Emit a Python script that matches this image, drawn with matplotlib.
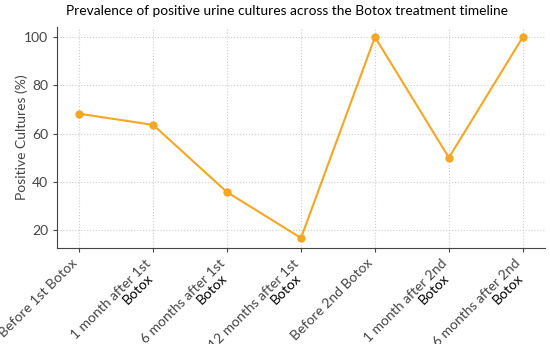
import matplotlib
matplotlib.use('Agg')
import matplotlib.pyplot as plt
from matplotlib.transforms import offset_copy

plt.rcParams['font.family'] = ['Lato', 'DejaVu Sans']

stages = ['Before 1st Botox',
          '1 month after 1st',
          '6 months after 1st',
          '12 months after 1st',
          'Before 2nd Botox',
          '1 month after 2nd',
          '6 months after 2nd']
second_line = ['', 'Botox', 'Botox', 'Botox', '', 'Botox', 'Botox']
positive = [68.2, 63.6, 35.7, 16.7, 100.0, 50.0, 100.0]

fig = plt.figure(figsize=(5.5, 3.44), dpi=100)
ax = fig.add_axes([0.1036, 0.279, 0.8874, 0.6425])

x = range(len(stages))
ax.plot(x, positive, '-o', color='#f5a623', lw=1.5, ms=5)

ax.set_xticks(list(x))
ax.set_xticklabels(stages, rotation=45, ha='right', fontsize=10, color='#444444')
# second line "Botox" in black, placed under the end of the first line
trans = offset_copy(ax.get_xaxis_transform(), fig=fig, x=2, y=-24, units='dots')
for i, s in enumerate(second_line):
    if s:
        ax.text(i, 0, s, transform=trans, rotation=45, ha='right', va='top',
                fontsize=10, color='black')

ax.set_yticks([20, 40, 60, 80, 100])
ax.tick_params(axis='y', labelsize=10, labelcolor='#444444', color='#444444', length=3)
ax.tick_params(axis='x', color='#444444', length=3)
ax.set_ylabel('Positive Cultures (%)', fontsize=10, color='#444444', labelpad=-3)
fig.suptitle('Prevalence of positive urine cultures across the Botox treatment timeline',
             x=0.521, y=0.985, fontsize=9.9, color='black')

ax.grid(True, linestyle=':', color='#cccccc', lw=0.8)
ax.spines['top'].set_visible(False)
ax.spines['right'].set_visible(False)
ax.spines['left'].set_color('#444444')
ax.spines['bottom'].set_color('#444444')

fig.savefig('out.png', dpi=100)
